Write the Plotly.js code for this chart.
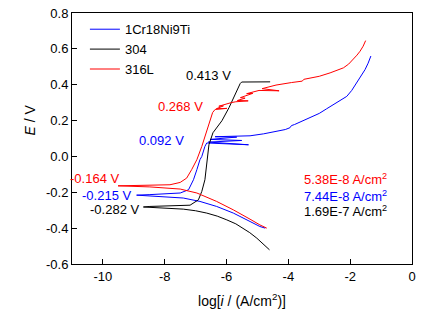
<!DOCTYPE html>
<html>
<head>
<meta charset="utf-8">
<script src="https://cdn.plot.ly/plotly-3.0.1.min.js"></script>
<style>html,body{margin:0;padding:0;background:#fff;}#chart{width:445px;height:325px;}</style>
</head>
<body>
<div id="chart"></div>
<script>
// 1Cr18Ni9Ti (blue): cathodic branch then anodic branch
const blueX = [-4.75,-4.92,-5.24,-5.78,-6.32,-6.86,-7.40,-8.48,-8.91,-8.48,-7.50,-7.23,-7.07,-6.96,-6.86,-6.80,-6.70,-6.64,-5.29,-6.59,-5.51,-6.53,-5.67,-6.37,-5.80,-5.24,-4.80,-4.38,-4.10,-3.95,-3.90,-3.80,-3.55,-3.30,-3.00,-2.76,-2.40,-2.11,-1.95,-1.79,-1.65,-1.52,-1.42,-1.33];
const blueY = [-0.400,-0.391,-0.363,-0.316,-0.279,-0.251,-0.232,-0.220,-0.216,-0.213,-0.204,-0.186,-0.130,-0.074,-0.018,0.000,0.056,0.075,0.065,0.080,0.089,0.095,0.108,0.110,0.114,0.115,0.126,0.140,0.150,0.160,0.172,0.178,0.197,0.215,0.240,0.266,0.302,0.335,0.368,0.410,0.445,0.484,0.520,0.560];

// 304 (black)
const blackX = [-4.61,-4.80,-5.02,-5.25,-5.46,-5.70,-5.99,-6.30,-6.64,-7.00,-7.40,-8.00,-8.48,-8.69,-8.48,-7.60,-7.18,-6.91,-6.80,-6.70,-6.66,-6.63,-6.57,-6.44,-6.15,-5.92,-5.76,-5.61,-5.56,-5.51,-4.59];
const blackY = [-0.521,-0.490,-0.456,-0.425,-0.400,-0.376,-0.354,-0.333,-0.316,-0.303,-0.294,-0.289,-0.287,-0.282,-0.279,-0.277,-0.272,-0.242,-0.195,-0.130,-0.074,0.000,0.065,0.132,0.199,0.272,0.334,0.384,0.406,0.415,0.416];

// 316L (red)
const redX = [-4.70,-4.92,-5.24,-5.78,-6.32,-6.96,-7.50,-8.48,-9.51,-8.48,-7.83,-7.50,-7.29,-7.13,-6.96,-6.80,-6.70,-6.59,-6.51,-6.45,-6.37,-5.99,-6.33,-6.10,-6.25,-5.85,-5.70,-5.30,-5.65,-5.40,-5.55,-5.15,-5.35,-4.95,-4.30,-4.85,-4.40,-3.90,-3.55,-3.50,-3.00,-2.65,-2.40,-2.22,-2.05,-1.90,-1.78,-1.68,-1.58,-1.50];
const redY = [-0.400,-0.382,-0.350,-0.298,-0.251,-0.204,-0.182,-0.170,-0.164,-0.160,-0.158,-0.145,-0.121,-0.074,-0.018,0.056,0.112,0.168,0.215,0.245,0.262,0.268,0.266,0.282,0.280,0.300,0.305,0.310,0.312,0.325,0.328,0.352,0.350,0.368,0.366,0.378,0.398,0.412,0.420,0.430,0.447,0.466,0.480,0.494,0.515,0.540,0.565,0.587,0.615,0.646];

const seriesNames = ['1Cr18Ni9Ti','304','316L'];
const seriesColors = ['#0000ff','#000000','#ff0000'];

const xTickVals = [-10,-8,-6,-4,-2,0];
const xTickText = ['-10','-8','-6','-4','-2','0'];
const yTickVals = [-0.6,-0.4,-0.2,0,0.2,0.4,0.6,0.8];
const yTickText = ['-0.6','-0.4','-0.2','0.0','0.2','0.4','0.6','0.8'];

const potLabels = ['0.413 V','0.268 V','0.092 V','-0.164 V','-0.215 V','-0.282 V'];
const potX = [-6.57,-7.50,-8.09,-10.27,-9.90,-9.61];
const potY = [0.451,0.278,0.088,-0.125,-0.218,-0.298];
const potColor = [1,2,0,2,0,1];

const icorrLabels = ['5.38E-8 A/cm<sup>2</sup>','7.44E-8 A/cm<sup>2</sup>','1.69E-7 A/cm<sup>2</sup>'];
const icorrY = [-0.126,-0.223,-0.307];
const icorrColor = [2,0,1];

const font = 'Liberation Sans, Arial, sans-serif';
const data = [[blueX,blueY],[blackX,blackY],[redX,redY]].map((d,i)=>({
  x:d[0], y:d[1], type:'scatter', mode:'lines', name:seriesNames[i],
  line:{color:seriesColors[i], width:1}
}));

const annotations = [];
potLabels.forEach((t,i)=>annotations.push({x:potX[i],y:potY[i],xref:'x',yref:'y',text:t,showarrow:false,
  font:{family:font,size:13,color:seriesColors[potColor[i]]},xanchor:'center',yanchor:'middle'}));
icorrLabels.forEach((t,i)=>annotations.push({x:-0.74,y:icorrY[i],xref:'x',yref:'y',text:t,showarrow:false,
  font:{family:font,size:13,color:seriesColors[icorrColor[i]]},xanchor:'right',yanchor:'middle'}));
// y-axis title
annotations.push({x:-0.124,y:0.575,xref:'paper',yref:'paper',text:'<i>E</i> / V',textangle:-90,showarrow:false,
  font:{family:font,size:14,color:'#000'},xanchor:'center',yanchor:'middle'});

const layout = {
  width:445, height:325,
  margin:{l:72,r:33,t:13,b:61},
  paper_bgcolor:'#fff', plot_bgcolor:'#fff',
  font:{family:font,size:13,color:'#000'},
  showlegend:true,
  legend:{x:0.038,y:0.995,xanchor:'left',yanchor:'top',bgcolor:'rgba(0,0,0,0)',font:{family:font,size:13,color:'#000'},tracegroupgap:0},
  xaxis:{range:[-11,0],tickvals:xTickVals,ticktext:xTickText,ticks:'inside',ticklen:5,tickcolor:'#000',
    showline:true,mirror:true,linecolor:'#000',linewidth:1,showgrid:false,zeroline:false,
    tickfont:{family:font,size:13},
    title:{text:'log[<i>i</i> / (A/cm<sup>2</sup>)]',font:{family:font,size:14},standoff:13}},
  yaxis:{range:[-0.6,0.8],tickvals:yTickVals,ticktext:yTickText,ticks:'inside',ticklen:5,tickcolor:'#000',
    showline:true,mirror:true,linecolor:'#000',linewidth:1,showgrid:false,zeroline:false,
    tickfont:{family:font,size:13}},
  annotations:annotations
};
Plotly.newPlot('chart',data,layout,{displayModeBar:false,staticPlot:true});
</script>
</body>
</html>
